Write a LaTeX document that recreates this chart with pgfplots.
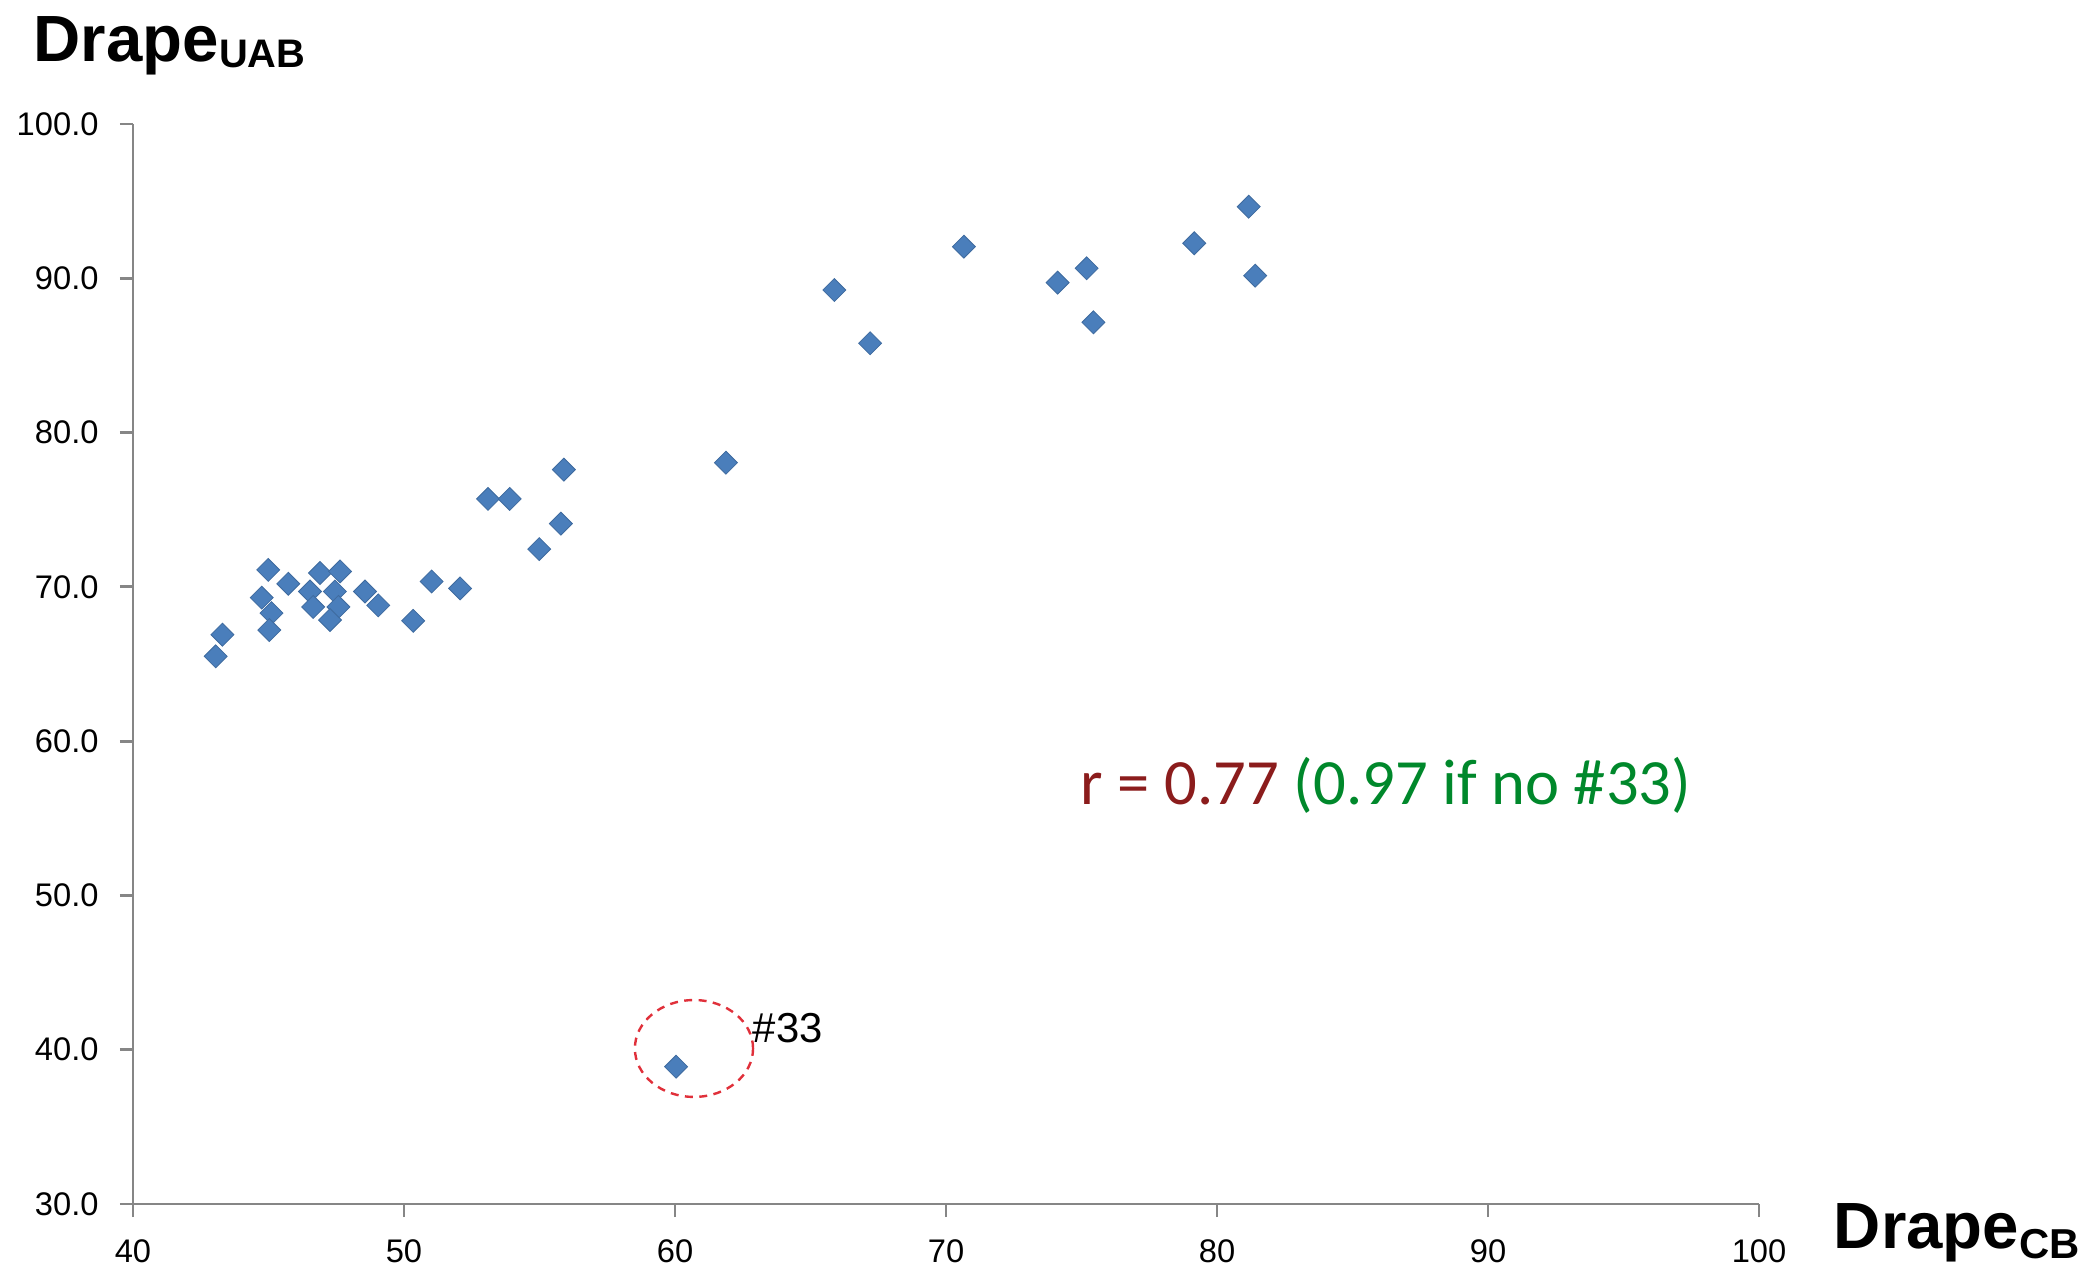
\documentclass[border=0pt]{standalone}
\usepackage{fontspec}
\setmainfont{Liberation Sans}
\newfontfamily\rfont{Carlito}
\usepackage{pgfplots}
\pgfplotsset{compat=1.18}
\definecolor{ptblue}{HTML}{4A7EBB}
\definecolor{axgray}{HTML}{868686}
\definecolor{rred}{HTML}{8B1C1C}
\definecolor{rgreen}{HTML}{00882B}
\definecolor{circred}{HTML}{E0303A}
\begin{document}
\begin{tikzpicture}
\useasboundingbox (-33.25bp,-19.75bp) rectangle (488.25bp,301bp);
\begin{axis}[
  scale only axis, width=406.5bp, height=270bp,
  xmin=40, xmax=100, ymin=30, ymax=100,
  xtick={40,50,...,100}, ytick={30,40,...,100},
  axis lines*=left,
  axis line style={axgray, line width=0.7bp},
  tick style={axgray, line width=0.7bp},
  tick align=outside, major tick length=3.3bp,
  /pgf/number format/assume math mode=true,
  ticklabel style={font=\fontsize{8.2}{9.6}\selectfont},
  xticklabel style={yshift=-2.2bp},
  yticklabel style={xshift=-1.8bp, /pgf/number format/.cd, fixed, fixed zerofill, precision=1},
  clip=false,
]
\addplot[only marks, mark=square*, mark size=2.03bp, mark options={rotate=45, fill=ptblue, draw=ptblue!85!black, line width=0.2bp}] coordinates {
(43.05,65.5) (43.3,66.9) (44.99,71.1) (45.73,70.2) (44.75,69.3) (45.11,68.3)
(45.03,67.2) (46.9,70.9) (47.64,71.0) (46.53,69.7) (46.65,68.7) (47.45,69.7)
(47.58,68.7) (47.27,67.85) (48.56,69.7) (49.05,68.8) (50.34,67.8) (51.02,70.35)
(52.07,69.9) (53.1,75.7) (53.9,75.7) (54.99,72.45) (55.79,74.1) (55.9,77.6)
(61.88,78.05) (65.88,89.24) (67.2,85.79) (70.66,92.05) (74.12,89.72) (75.19,90.65)
(75.44,87.15) (79.16,92.27) (81.17,94.64) (81.41,90.17) (60.04,38.9)
};
\draw[circred, line width=0.6bp, dash pattern=on 2bp off 1.6bp] (axis cs:60.70,40.08) ellipse [x radius=2.18, y radius=3.14];
\end{axis}
\node[anchor=base west, inner sep=0pt, font=\fontsize{10.5}{12}\selectfont] at (154.75bp,40.25bp) {\#33};
\node[anchor=base west, inner sep=0pt, font=\rfont\fontsize{16.2}{19}\selectfont] at (236.75bp,99.75bp) {\textcolor{rred}{r = 0.77} \textcolor{rgreen}{(0.97 if no \#33)}};
\node[anchor=base west, inner sep=0pt, font=\bfseries\fontsize{16.4}{19}\selectfont] at (-25bp,285.5bp) {Drape\raisebox{-1.5bp}{\fontsize{10}{12}\selectfont UAB}};
\node[anchor=base west, inner sep=0pt, font=\bfseries\fontsize{16.4}{19}\selectfont] at (425bp,-11bp) {Drape\raisebox{-2.5bp}{\fontsize{10.5}{12}\selectfont CB}};
\end{tikzpicture}
\end{document}
